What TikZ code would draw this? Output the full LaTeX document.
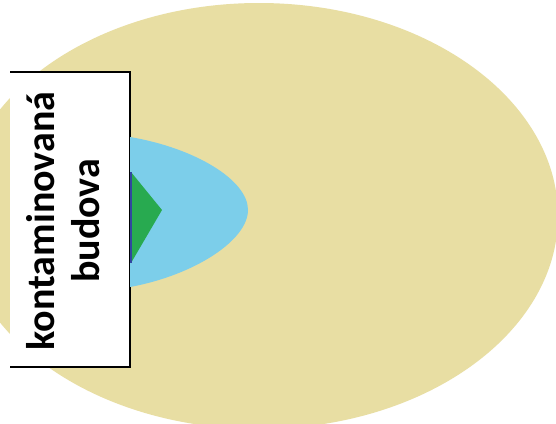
\documentclass[tikz,border=0pt]{standalone}
\usepackage{fontspec}
\setmainfont{Carlito}
\definecolor{beige}{RGB}{232,222,163}
\definecolor{lblue}{RGB}{124,206,234}
\definecolor{lgreen}{RGB}{40,170,80}
\definecolor{dblue}{RGB}{50,70,160}
\begin{document}
\begin{tikzpicture}[x=1pt,y=-1pt]
\useasboundingbox (0,0) rectangle (556,423);
\fill[white] (0,0) rectangle (556,423);
\fill[beige] (259,216) ellipse [x radius=299, y radius=213];
\fill[white] (10,72) rectangle (130,367);
\draw[line width=2pt] (10,72) -- (130,72) -- (130,367) -- (10,367);
\fill[lblue] (130,137) .. controls (195,148) and (248,180) .. (248,210)
  .. controls (248,240) and (195,275) .. (130,287) -- cycle;
\fill[lgreen] (131,172) -- (162,210) -- (131,263) -- cycle;
\draw[dblue, line width=2.5pt] (131,172) -- (131,263);
\node[rotate=90, align=center, font=\fontsize{40}{45}\selectfont\bfseries] (lbl) at (63,221) {kontaminovaná\\budova};
\end{tikzpicture}
\end{document}
